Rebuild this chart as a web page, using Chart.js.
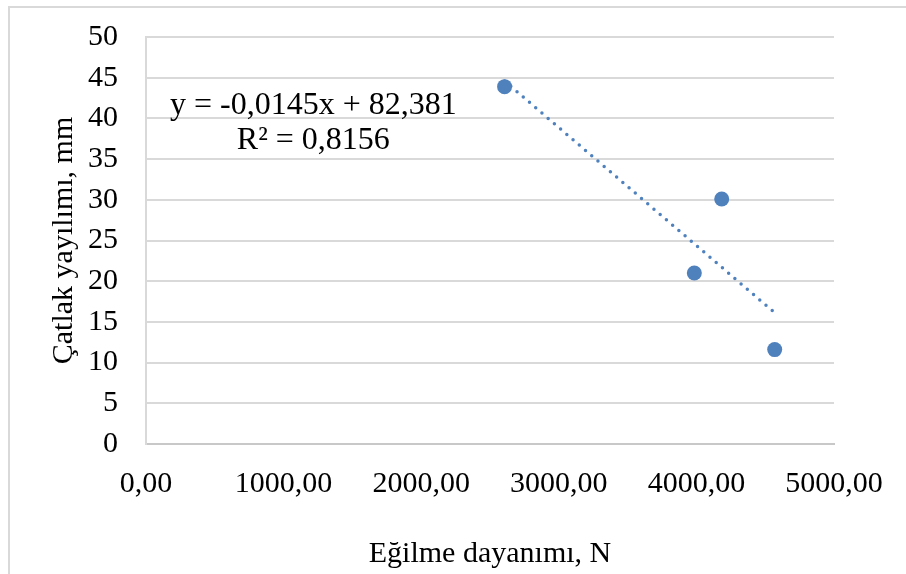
<!DOCTYPE html>
<html>
<head>
<meta charset="utf-8">
<script src="https://cdn.jsdelivr.net/npm/chart.js@4.4.0/dist/chart.umd.min.js"></script>
<style>
  html, body { margin: 0; padding: 0; background: #fff; overflow: hidden; }
  #wrap { position: relative; width: 906px; height: 574px; }
  #frame { position: absolute; left: 8px; top: 6px; width: 1000px; height: 1000px; border: 2px solid #d9d9d9; }
  #chart { position: absolute; left: 0; top: 0; }
</style>
</head>
<body>
<div id="wrap">
  <div id="frame"></div>
  <canvas id="chart" width="906" height="574"></canvas>
</div>
<script>
'use strict';

// ------------------------------- Data ------------------------------//
const bendingStrength = [2606, 4184, 3985, 4569];   // Eğilme dayanımı, N
const crackSpread = [43.9, 30.1, 21.0, 11.6];      // Çatlak yayılımı, mm

const trendSlope = -0.0145;
const trendIntercept = 82.381;
const trendLabel = ['y = -0,0145x + 82,381', 'R² = 0,8156'];
const labelAnchorX = 1216;
const labelAnchorY = [40.6, 36.3];

const xTicks = [0, 1000, 2000, 3000, 4000, 5000];
const yTicks = [0, 5, 10, 15, 20, 25, 30, 35, 40, 45, 50];

// ------------------------------- Helpers ------------------------------//
const blue = '#4f81bd';
const gridGray = '#d9d9d9';
const serif = 'Liberation Serif';

function trendPoints() {
  const xMin = Math.min(...bendingStrength);
  const xMax = Math.max(...bendingStrength);
  return [xMin, xMax].map(x => ({ x: x, y: trendSlope * x + trendIntercept }));
}

const equationLabel = {
  id: 'equationLabel',
  afterDatasetsDraw(chart) {
    const { ctx, scales } = chart;
    ctx.save();
    ctx.font = '32px "' + serif + '"';
    ctx.fillStyle = '#000';
    ctx.textAlign = 'center';
    ctx.textBaseline = 'alphabetic';
    const px = scales.x.getPixelForValue(labelAnchorX);
    trendLabel.forEach((line, i) => {
      ctx.fillText(line, px, scales.y.getPixelForValue(labelAnchorY[i]));
    });
    ctx.restore();
  }
};

// ------------------------------- Chart ------------------------------//
const ctx = document.getElementById('chart').getContext('2d');

new Chart(ctx, {
  type: 'scatter',
  data: {
    datasets: [{
      label: 'points',
      data: bendingStrength.map((x, i) => ({ x: x, y: crackSpread[i] })),
      backgroundColor: blue,
      borderColor: blue,
      borderWidth: 0,
      pointRadius: 7.5,
      order: 0
    }, {
      label: 'trend',
      type: 'line',
      data: trendPoints(),
      showLine: true,
      borderColor: blue,
      borderWidth: 3.5,
      borderDash: [0, 8.2],
      borderCapStyle: 'round',
      pointRadius: 0,
      fill: false,
      order: 1
    }]
  },
  options: {
    responsive: false,
    animation: false,
    devicePixelRatio: 1,
    layout: { padding: { top: 37, right: 72, bottom: 0, left: 0 } },
    plugins: {
      legend: { display: false },
      tooltip: { enabled: false }
    },
    scales: {
      x: {
        type: 'linear',
        min: xTicks[0],
        max: xTicks[xTicks.length - 1],
        afterBuildTicks: scale => { scale.ticks = xTicks.map(v => ({ value: v })); },
        afterFit: scale => { scale.height = 130; },
        grid: { display: false, drawTicks: false },
        border: { display: true, color: '#c8c8c8', width: 2 },
        ticks: {
          color: '#000',
          font: { family: serif, size: 30 },
          padding: 22,
          maxRotation: 0,
          callback: v => v.toFixed(2).replace('.', ',')
        },
        title: {
          display: true,
          text: 'Eğilme dayanımı, N',
          color: '#000',
          font: { family: serif, size: 30 },
          padding: { top: 0, bottom: 2 }
        }
      },
      y: {
        type: 'linear',
        min: yTicks[0],
        max: yTicks[yTicks.length - 1],
        afterBuildTicks: scale => { scale.ticks = yTicks.map(v => ({ value: v })); },
        afterFit: scale => {
          scale.width = 146;
          scale.paddingTop = 0;
          scale.paddingBottom = 0;
        },
        grid: { color: gridGray, lineWidth: 2, drawTicks: false },
        border: { display: true, color: gridGray, width: 2 },
        ticks: {
          color: '#000',
          font: { family: serif, size: 30 },
          padding: 28
        },
        title: {
          display: true,
          text: 'Çatlak yayılımı, mm',
          color: '#000',
          font: { family: serif, size: 30 },
          padding: { top: 46, bottom: 0 }
        }
      }
    }
  },
  plugins: [equationLabel]
});
</script>
</body>
</html>
